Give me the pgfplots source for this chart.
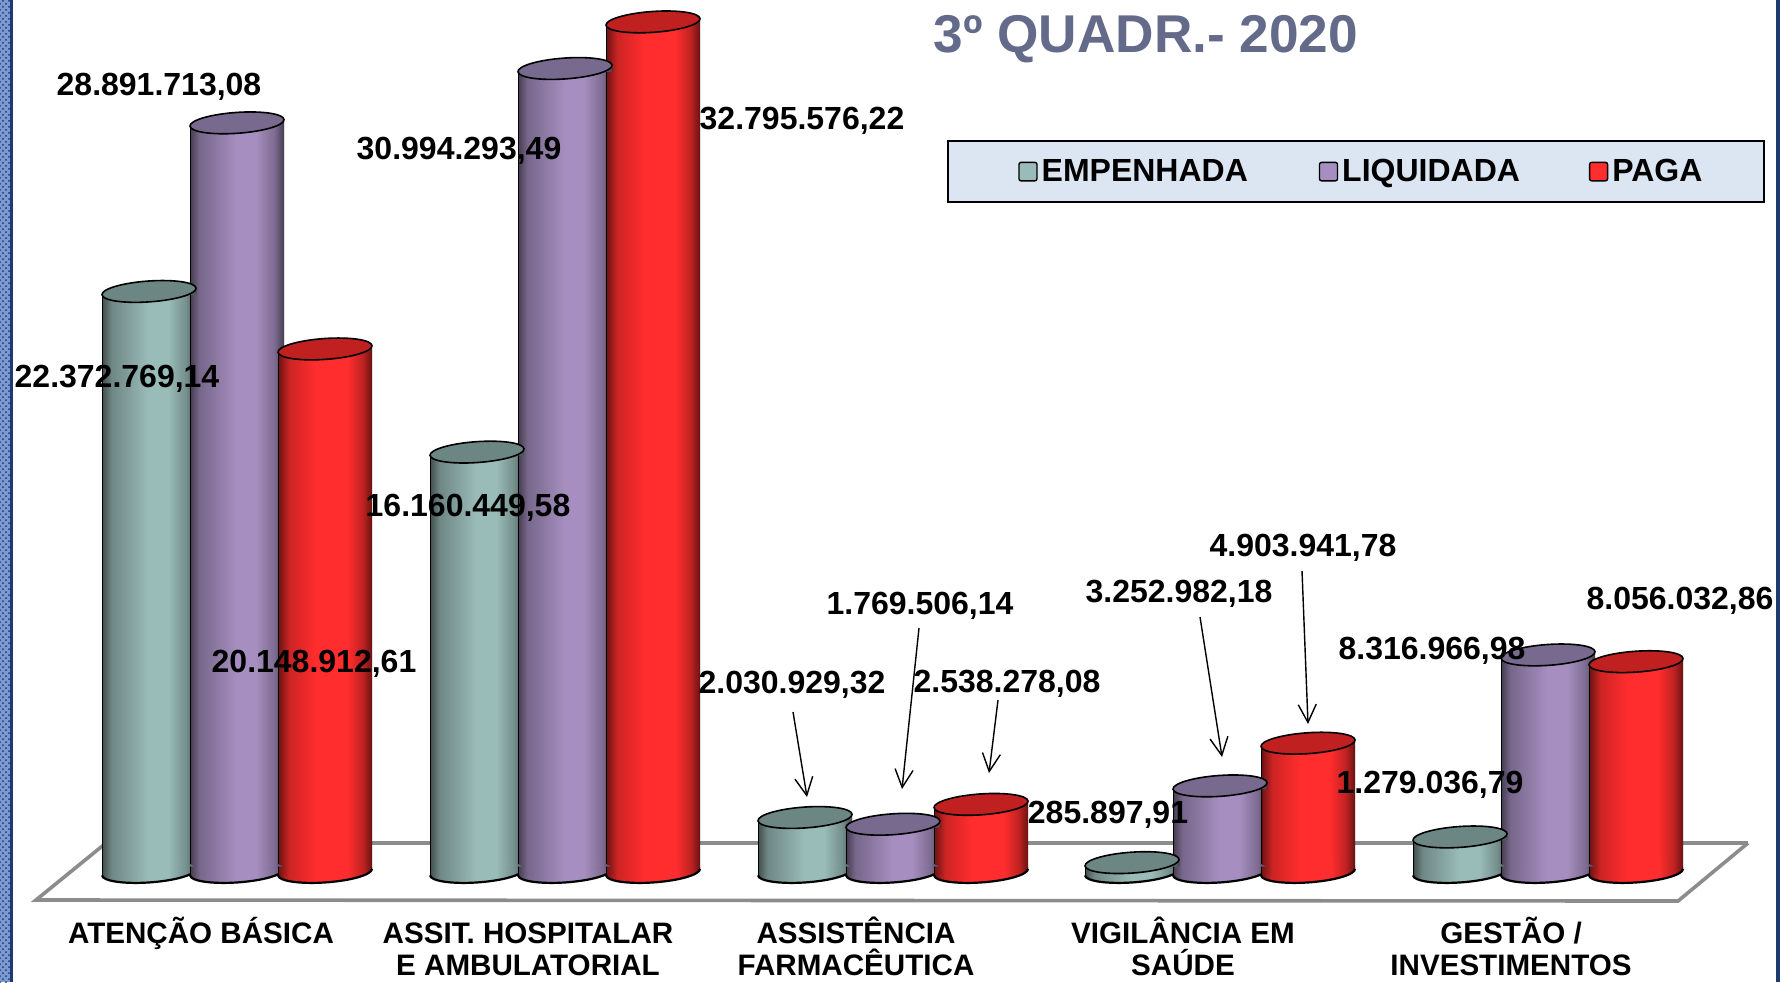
\documentclass[border=0pt]{standalone}
\usepackage{fontspec}
\setmainfont{Liberation Sans}
\usepackage{pgfplots}
\pgfplotsset{compat=1.18}
\usetikzlibrary{arrows.meta,patterns}
\definecolor{tealtop}{HTML}{6C8684}
\definecolor{purpletop}{HTML}{786A8E}
\definecolor{redtop}{HTML}{C0201F}
\definecolor{tealmid}{HTML}{9ABCB9}
\definecolor{purplemid}{HTML}{A68FC0}
\definecolor{redmid}{HTML}{FF2D2D}
\definecolor{legfill}{HTML}{DCE6F2}
\definecolor{titlecol}{HTML}{646B8A}
\definecolor{stripblue}{HTML}{7C9AD2}
\definecolor{stripdark}{HTML}{1F3A70}
\pgfdeclarehorizontalshading{tealcyl}{100bp}{color(0bp)=(black); color(25bp)=(black); color(25.5bp)=(tealmid!45!black); color(30bp)=(tealmid!72!black); color(50bp)=(tealmid); color(60bp)=(tealmid); color(70bp)=(tealmid!75!black); color(74.5bp)=(tealmid!45!black); color(75bp)=(black); color(100bp)=(black)}
\pgfdeclarehorizontalshading{purplecyl}{100bp}{color(0bp)=(black); color(25bp)=(black); color(25.5bp)=(purplemid!45!black); color(30bp)=(purplemid!72!black); color(50bp)=(purplemid); color(60bp)=(purplemid); color(70bp)=(purplemid!75!black); color(74.5bp)=(purplemid!45!black); color(75bp)=(black); color(100bp)=(black)}
\pgfdeclarehorizontalshading{redcyl}{100bp}{color(0bp)=(black); color(25bp)=(black); color(25.5bp)=(redmid!45!black); color(31bp)=(redmid!80!black); color(45bp)=(redmid); color(62bp)=(redmid); color(70bp)=(redmid!75!black); color(74.5bp)=(redmid!45!black); color(75bp)=(black); color(100bp)=(black)}
\newcommand\declarecyl[3]{%
\pgfdeclareplotmark{#1top}{%
  \pgfpathmoveto{\pgfpoint{-23.5pt}{-1.65pt}}\pgfpathlineto{\pgfpoint{23.5pt}{1.65pt}}\pgfpathlineto{\pgfpoint{23.5pt}{-1.65pt}}\pgfpathclose
  \pgfshadepath{#2}{0}\pgfusepath{discard}%
  \pgfsetlinewidth{0.8pt}\pgfsetfillcolor{#3}\pgfsetstrokecolor{black}%
  \pgfpathellipse{\pgfpointorigin}{\pgfpoint{23.5pt}{1.65pt}}{\pgfpoint{-0.4pt}{5.2pt}}%
  \pgfusepathqfillstroke}%
\pgfdeclareplotmark{#1bot}{%
  \pgfpathellipse{\pgfpointorigin}{\pgfpoint{23.5pt}{1.65pt}}{\pgfpoint{-0.4pt}{5.2pt}}%
  \pgfshadepath{#2}{0}\pgfusepath{discard}%
  \pgfpathmoveto{\pgfpoint{-23.5pt}{-1.65pt}}\pgfpathlineto{\pgfpoint{23.5pt}{1.65pt}}\pgfpathlineto{\pgfpoint{23.5pt}{2.65pt}}\pgfpathlineto{\pgfpoint{-23.5pt}{2.65pt}}\pgfpathclose
  \pgfshadepath{#2}{0}\pgfusepath{discard}%
  \pgfsetlinewidth{1.1pt}\pgfsetstrokecolor{black}%
  \pgfpathmoveto{\pgfpoint{-23.5pt}{-1.65pt}}%
  \pgfpatharcaxes{180}{360}{\pgfpoint{23.5pt}{1.65pt}}{\pgfpoint{-0.4pt}{5.2pt}}%
  \pgfusepathqstroke}%
}
\declarecyl{teal}{tealcyl}{tealtop}
\declarecyl{purple}{purplecyl}{purpletop}
\declarecyl{red}{redcyl}{redtop}
\pgfplotsset{
  cylbar/.style={ybar, bar width=47pt, bar shift=0pt, draw=none, forget plot,
    yshift=1.5pt, y filter/.expression={y-255000}, shading=#1},
  cylmark/.style={only marks, forget plot, black, mark=#1},
  cylbot/.style={only marks, forget plot, black, yshift=-1pt, mark=#1},
}
\newcommand\lab[3]{\node[font=\bfseries\fontsize{16}{16}\selectfont,inner sep=0pt,anchor=center] at (#1,#2) {#3};}
\newcommand\ft{\rule{0pt}{14.5pt}}
\begin{document}
\begin{tikzpicture}
\path[use as bounding box] (0,0) rectangle (890pt,491pt);
\fill[white] (0,0) rectangle (890pt,491pt);
\begin{axis}[
  scale only axis, width=890pt, height=491pt,
  xmin=0, xmax=1780, ymin=-4331000, ymax=33643000,
  clip=false,
  axis line style={draw=none}, tick style={draw=none},
  ytick=\empty, scaled y ticks=false,
  xtick={201,528,856,1183,1511},
  xticklabels={{\ft ATENÇÃO BÁSICA},{\ft ASSIT. HOSPITALAR\\E AMBULATORIAL},{\ft ASSISTÊNCIA\\FARMACÊUTICA},{\ft VIGILÂNCIA EM\\SAÚDE},{\ft GESTÃO /\\INVESTIMENTOS}},
  xticklabel style={font=\bfseries\fontsize{14.8}{16}\selectfont, align=center, anchor=north, yshift=37.4pt},
  legend columns=3,
  legend image code/.code={\path (-6pt,0); \draw[#1,draw=black,line width=0.7pt,rounded corners=1pt] (0pt,-4.6pt) rectangle (9pt,4.6pt);},
  legend style={at={(0.532,0.8575)}, anchor=north west, draw=black, line width=1pt, fill=legfill,
    font=\bfseries\fontsize{16}{16}\selectfont, inner xsep=29pt, inner ysep=7pt,
    /tikz/column 2/.style={column sep=27.3pt}, /tikz/column 4/.style={column sep=26.3pt}},
]
% floor
\addplot[forget plot, no marks, color=black!45, line width=1.8pt, line join=miter] coordinates {
  (106,1044000) (36,-1160000) (1678,-1199000) (1748,1044000)};
\addplot[forget plot, no marks, color=black!45, line width=1.8pt] coordinates {(106,1044000) (1748,1044000)};
% EMPENHADA
\addplot[cylbot=tealbot] coordinates {(149,0)(477,0)(805,0)(1132,0)(1460,0)};
\addplot[cylbar=tealcyl] coordinates {(149,22372769.14)};
\addplot[cylbar=tealcyl] coordinates {(477,16160449.58)};
\addplot[cylbar=tealcyl] coordinates {(805,2030929.32)};
\addplot[cylbar=tealcyl] coordinates {(1132,285897.91)};
\addplot[cylbar=tealcyl] coordinates {(1460,1279036.79)};
\addplot[cylmark=tealtop] coordinates {(149,22372769.14)(477,16160449.58)(805,2030929.32)(1132,285897.91)(1460,1279036.79)};
% LIQUIDADA
\addplot[cylbot=purplebot] coordinates {(237,0)(565,0)(893,0)(1220,0)(1548,0)};
\addplot[cylbar=purplecyl] coordinates {(237,28891713.08)};
\addplot[cylbar=purplecyl] coordinates {(565,30994293.49)};
\addplot[cylbar=purplecyl] coordinates {(893,1769506.14)};
\addplot[cylbar=purplecyl] coordinates {(1220,3252982.18)};
\addplot[cylbar=purplecyl] coordinates {(1548,8316966.98)};
\addplot[cylmark=purpletop] coordinates {(237,28891713.08)(565,30994293.49)(893,1769506.14)(1220,3252982.18)(1548,8316966.98)};
% PAGA
\addplot[cylbot=redbot] coordinates {(325,0)(653,0)(981,0)(1308,0)(1636,0)};
\addplot[cylbar=redcyl] coordinates {(325,20148912.61)};
\addplot[cylbar=redcyl] coordinates {(653,32795576.22)};
\addplot[cylbar=redcyl] coordinates {(981,2538278.08)};
\addplot[cylbar=redcyl] coordinates {(1308,4903941.78)};
\addplot[cylbar=redcyl] coordinates {(1636,8056032.86)};
\addplot[cylmark=redtop] coordinates {(325,20148912.61)(653,32795576.22)(981,2538278.08)(1308,4903941.78)(1636,8056032.86)};
\addlegendimage{fill=tealmid}\addlegendentry{EMPENHADA}
\addlegendimage{fill=purplemid}\addlegendentry{LIQUIDADA}
\addlegendimage{fill=redmid}\addlegendentry{PAGA}
\end{axis}
\begin{scope}[x=0.5pt,y=-0.5pt,yshift=491pt]
\fill[stripblue] (0,0) rectangle (10,982);
\fill[stripdark] (10,0) rectangle (13,982);
\fill[stripdark] (1776,0) rectangle (1780,982);
\fill[pattern=crosshatch dots, pattern color=stripdark] (0,0) rectangle (10,982);
\node[font=\bfseries\fontsize{26.6}{26.6}\selectfont,text=titlecol,inner sep=0pt] at (1146,39.5) {3º QUADR.- 2020};
\lab{159}{87}{28.891.713,08}
\lab{459}{151}{30.994.293,49}
\lab{802}{121}{32.795.576,22}
\lab{117}{379}{22.372.769,14}
\lab{468}{508}{16.160.449,58}
\lab{314}{664}{20.148.912,61}
\lab{792}{685}{2.030.929,32}
\lab{920}{606}{1.769.506,14}
\lab{1007}{684}{2.538.278,08}
\lab{1108}{815}{285.897,91}
\lab{1179}{594}{3.252.982,18}
\lab{1303}{548}{4.903.941,78}
\lab{1430}{785}{1.279.036,79}
\lab{1432}{651}{8.316.966,98}
\lab{1680}{601}{8.056.032,86}
\foreach \a/\b/\c/\d in {793/712/807/797, 919/628/902/789, 998/700/989/773, 1200/617/1222/757, 1302/571/1308/724}
  \draw[-{Straight Barb[length=9pt,width=9pt]},line width=0.7pt] (\a,\b) -- (\c,\d);
\end{scope}
\end{tikzpicture}
\end{document}
